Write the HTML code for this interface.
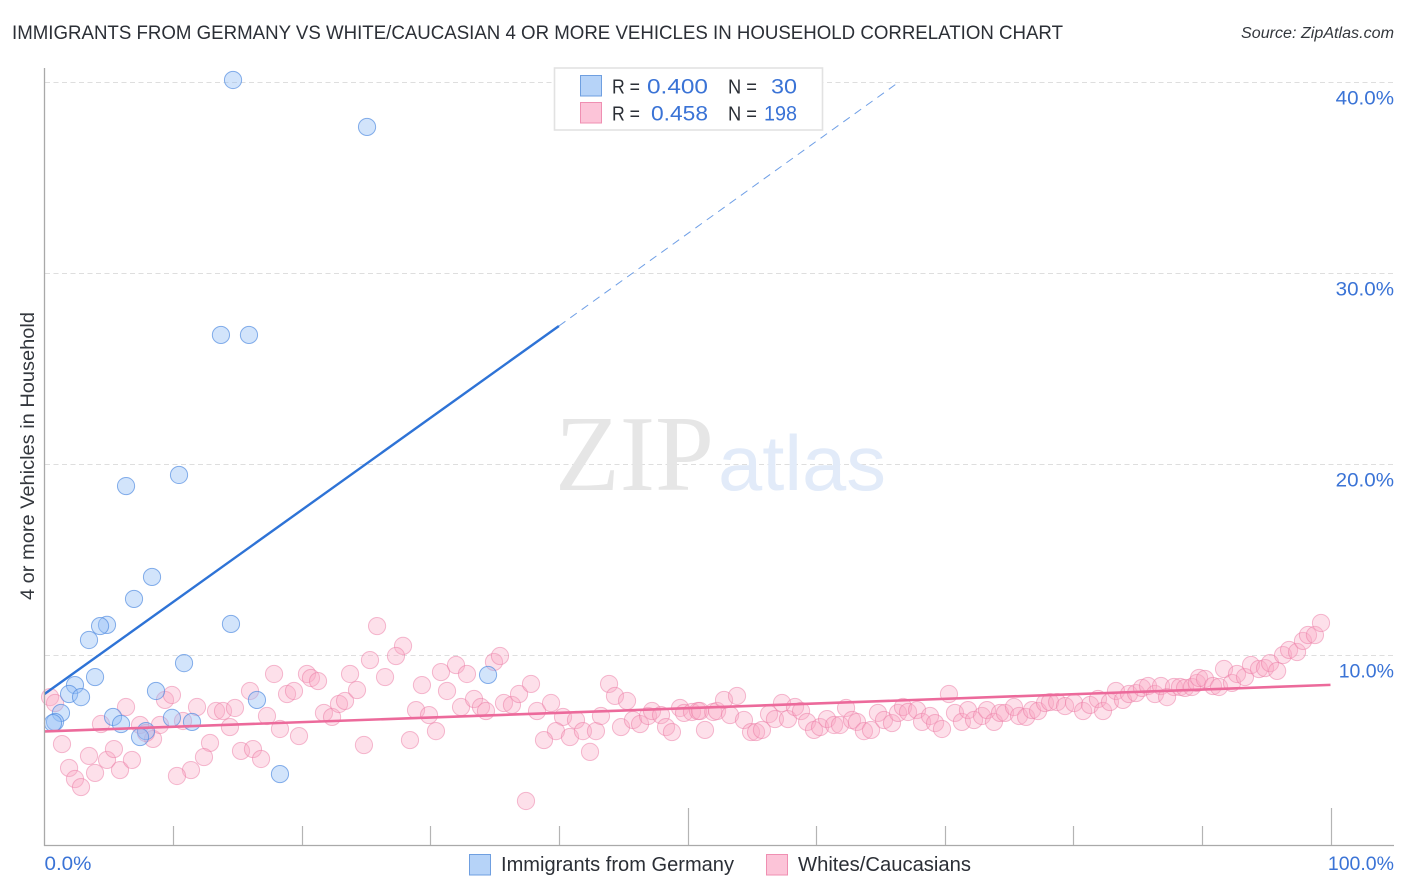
<!DOCTYPE html>
<html lang="en">
<head>
<meta charset="utf-8">
<title>Immigrants from Germany vs White/Caucasian 4 or more Vehicles in Household Correlation Chart</title>
<style>
html,body{margin:0;padding:0;background:#fff;width:1406px;height:892px;overflow:hidden}
svg{display:block;font-family:"Liberation Sans",sans-serif}
</style>
</head>
<body>
<svg id="chart" xmlns="http://www.w3.org/2000/svg" width="1406" height="892" viewBox="0 0 1406 892">
  <rect x="0" y="0" width="1406" height="892" fill="#ffffff"/>
  <text x="12" y="39" font-size="19.5" fill="#2b2f36" textLength="1051" lengthAdjust="spacingAndGlyphs">IMMIGRANTS FROM GERMANY VS WHITE/CAUCASIAN 4 OR MORE VEHICLES IN HOUSEHOLD CORRELATION CHART</text>
  <text x="1241" y="38" font-size="15.5" font-style="italic" fill="#33373d" textLength="153" lengthAdjust="spacingAndGlyphs">Source: ZipAtlas.com</text>
  <g id="grid"></g>
  <g>
    <text x="555" y="490" font-family="'Liberation Serif',serif" font-size="108" fill="#e6e6e6" textLength="159" lengthAdjust="spacingAndGlyphs">ZIP</text>
    <text x="718" y="490" font-size="78" fill="#e2ebf9" textLength="168" lengthAdjust="spacingAndGlyphs">atlas</text>
  </g>
  <g id="whites-points"></g>
  <g id="germany-points"></g>
  <g id="trends"></g>
  <g id="axes"></g>
  <text transform="translate(34,600) rotate(-90)" font-size="19.5" fill="#33373d" textLength="288" lengthAdjust="spacingAndGlyphs">4 or more Vehicles in Household</text>

  <g>
    <rect x="554.5" y="68" width="268" height="62" fill="#ffffff" stroke="#e2e2e2" stroke-width="1.6"/>
    <rect x="580.5" y="75.5" width="21" height="20.5" fill="#b6d3f8" stroke="#6f9fe0" stroke-width="1"/>
    <rect x="580.5" y="102.5" width="21" height="20.5" fill="#fcc4d8" stroke="#ef8fb2" stroke-width="1"/>
    <g font-size="20.5" fill="#2b2f36">
      <text x="612" y="93.5" textLength="28" lengthAdjust="spacingAndGlyphs">R =</text>
      <text x="728" y="93.5" textLength="29" lengthAdjust="spacingAndGlyphs">N =</text>
      <text x="612" y="120.5" textLength="28" lengthAdjust="spacingAndGlyphs">R =</text>
      <text x="728" y="120.5" textLength="29" lengthAdjust="spacingAndGlyphs">N =</text>
    </g>
    <g font-size="21.5" fill="#3a73d6">
      <text x="647" y="93.5" textLength="61" lengthAdjust="spacingAndGlyphs">0.400</text>
      <text x="771" y="93.5" textLength="26" lengthAdjust="spacingAndGlyphs">30</text>
      <text x="651" y="120.5" textLength="57" lengthAdjust="spacingAndGlyphs">0.458</text>
      <text x="764" y="120.5" textLength="33" lengthAdjust="spacingAndGlyphs">198</text>
    </g>
  </g>

  <g>
    <g>
      <rect x="469.5" y="854.5" width="21" height="20.5" fill="#b6d3f8" stroke="#6f9fe0" stroke-width="1"/>
      <text x="501" y="871" font-size="20" fill="#2b2f36" textLength="233" lengthAdjust="spacingAndGlyphs">Immigrants from Germany</text>
    </g>
    <g>
      <rect x="766.5" y="854.5" width="21" height="20.5" fill="#fcc4d8" stroke="#ef8fb2" stroke-width="1"/>
      <text x="798" y="871" font-size="20" fill="#2b2f36" textLength="173" lengthAdjust="spacingAndGlyphs">Whites/Caucasians</text>
    </g>
  </g>
</svg>
<script>
// ---- Data (percent values) ----
const yTickValues = [10, 20, 30, 40];
const yTickLabels = ["10.0%", "20.0%", "30.0%", "40.0%"];
const xTickValues = [10, 20, 30, 40, 50, 60, 70, 80, 90, 100];
const xEndValues = [0, 100];
const xEndLabels = ["0.0%", "100.0%"];

const germanyX = [14.66,25.08,13.72,15.90,6.34,10.46,8.36,6.96,14.50,4.86,4.32,3.46,10.85,3.93,34.49,2.37,1.91,2.84,8.67,16.52,1.28,0.82,0.66,5.33,5.95,9.91,11.47,7.89,7.43,18.31];
const germanyY = [40.08,37.62,26.73,26.73,18.82,19.40,14.06,12.91,11.60,11.55,11.49,10.76,9.55,8.82,8.93,8.40,7.93,7.77,8.09,7.62,6.94,6.47,6.41,6.73,6.36,6.68,6.47,5.99,5.68,3.74];

const whitesX = [0.43,0.82,1.36,1.91,2.37,2.84,3.46,3.93,4.86,5.40,5.87,6.80,4.39,6.34,7.43,8.44,7.89,8.98,9.37,9.91,10.77,11.86,12.87,12.40,11.39,10.30,13.34,13.88,14.81,15.98,15.28,16.21,16.84,14.42,17.30,18.31,19.79,17.85,18.86,19.40,20.41,20.72,21.27,21.73,22.36,22.90,23.37,23.76,
25.86,27.88,27.33,25.31,26.48,24.30,24.84,28.42,30.44,29.35,28.89,29.90,30.83,32.00,32.85,31.30,32.39,33.40,33.94,34.33,34.95,35.42,35.73,36.35,36.90,37.83,38.30,39.39,40.32,41.33,39.77,38.84,40.86,41.87,42.88,42.42,43.27,37.44,43.90,44.36,45.30,44.83,45.76,46.31,46.93,47.24,47.94,48.33,48.79,49.42,49.73,50.35,50.82,
51.36,50.97,52.00,52.30,52.84,53.31,53.85,54.39,54.94,55.33,55.79,56.34,56.80,57.35,57.81,58.36,58.83,59.30,59.84,60.31,60.85,61.40,61.86,62.33,62.79,63.18,63.72,64.27,64.81,65.28,65.90,66.37,66.76,67.15,67.85,68.24,68.86,69.25,69.79,70.33,70.80,71.34,71.81,72.28,72.90,73.29,73.83,74.30,74.69,75.39,75.78,76.33,76.79,77.26,77.80,
78.19,78.74,79.36,80.06,80.76,81.30,81.92,82.31,82.85,83.32,83.86,84.33,84.88,85.34,85.81,86.35,86.82,87.29,87.83,88.30,88.69,89.23,89.62,89.78,90.24,90.86,91.33,91.72,92.34,92.73,93.35,93.82,94.44,94.91,95.30,95.85,96.31,96.78,97.40,97.86,98.25,98.79,99.26];
const whitesY = [7.77,7.46,5.31,4.06,3.48,3.06,4.69,3.80,4.48,5.05,3.95,4.48,6.36,7.25,6.31,5.58,5.89,6.31,7.62,7.88,6.52,7.25,5.37,4.63,3.95,3.64,7.04,7.04,7.20,8.09,4.95,5.05,4.53,6.20,6.78,6.10,5.73,8.98,7.93,8.09,8.98,8.77,8.61,6.94,6.73,7.41,7.57,8.98,
11.49,10.45,9.92,9.71,8.82,8.14,5.26,5.52,5.99,8.40,7.09,6.83,9.08,9.45,8.98,8.09,7.25,7.67,7.25,7.04,9.61,9.92,7.46,7.36,7.93,8.46,7.04,7.46,6.73,6.57,5.99,5.52,5.68,5.99,5.99,4.90,6.78,2.33,8.46,7.83,7.57,6.20,6.57,6.36,6.78,7.04,6.83,6.20,5.94,7.20,6.94,6.99,7.04,
6.05,7.04,6.99,7.04,7.62,6.83,7.83,6.57,5.94,5.94,6.05,6.88,6.62,7.46,6.62,7.25,7.04,6.47,6.05,6.20,6.62,6.31,6.31,7.20,6.57,6.47,5.99,6.05,6.94,6.57,6.41,6.94,7.25,6.99,7.09,6.47,6.78,6.41,6.10,7.93,6.94,6.47,7.09,6.57,6.78,7.09,6.47,6.94,6.94,7.25,6.78,6.73,7.09,7.04,7.46,
7.51,7.51,7.30,7.46,7.04,7.36,7.67,7.04,7.51,8.09,7.62,7.93,7.98,8.25,8.35,7.93,8.35,7.77,8.30,8.30,8.25,8.30,8.51,8.77,8.72,8.35,8.30,9.24,8.51,8.98,8.82,9.45,9.24,9.29,9.55,9.14,9.97,10.24,10.13,10.71,11.02,11.02,11.65];

// Regression lines: [value at x-start, value at x-end]
const germanyTrendX = [0, 40];
const germanyTrendY = [7.93, 27.2];
const germanyForecastX = [40, 66.5];
const germanyForecastY = [27.2, 40];
const whitesTrendX = [0, 100];
const whitesTrendY = [5.97, 8.41];

// ---- Axis functions ----
const xScale = v => 44.5 + v * 12.86;
const yScale = v => 845.5 - v * 19.1;

const NS = "http://www.w3.org/2000/svg";
function make(tag, parentId, attrs) {
  const el = document.createElementNS(NS, tag);
  for (const k in attrs) el.setAttribute(k, attrs[k]);
  document.getElementById(parentId).appendChild(el);
  return el;
}
// Reference tick font is slightly wider than Liberation Sans, except its narrow "1"
function widen(label) {
  const factor = label.textContent.charAt(0) === "1" ? 1 : 1.055;
  label.setAttribute("textLength", label.getComputedTextLength() * factor);
  label.setAttribute("lengthAdjust", "spacingAndGlyphs");
}

// Gridlines and right-hand labels
yTickValues.forEach((v, i) => {
  const gy = Math.round(yScale(v)) + 0.5;
  const line = make("line", "grid", {x1: 45, x2: 1394, y1: gy, y2: gy, stroke: "#dedede", "stroke-width": 1, "stroke-dasharray": "5 3.5"});
  
  
  const label = make("text", "axes", {x: 1394, y: yScale(v) + 23, "font-size": 19.5, fill: "#3a73d6", "text-anchor": "end"});
  label.textContent = yTickLabels[i];
  widen(label);
  
  
});

// Whites/Caucasians points
whitesX.forEach((x, i) => {
  const c = make("circle", "whites-points", {cx: xScale(x), cy: yScale(whitesY[i]), r: 8.6, fill: "#f9a8c4", "fill-opacity": 0.36, stroke: "#ec7aa4", "stroke-opacity": 0.5, "stroke-width": 1});
  
  
});

// Immigrants from Germany points
germanyX.forEach((x, i) => {
  const c = make("circle", "germany-points", {cx: xScale(x), cy: yScale(germanyY[i]), r: 8.6, fill: "#93bef5", "fill-opacity": 0.42, stroke: "#4f8ae0", "stroke-opacity": 0.68, "stroke-width": 1});
  
  
});

// Trend lines
const germanyLine = make("line", "trends", {x1: xScale(germanyTrendX[0]), y1: yScale(germanyTrendY[0]), x2: xScale(germanyTrendX[1]), y2: yScale(germanyTrendY[1]), stroke: "#2e73d6", "stroke-width": 2.4});


const germanyDash = make("line", "trends", {x1: xScale(germanyForecastX[0]), y1: yScale(germanyForecastY[0]), x2: xScale(germanyForecastX[1]), y2: yScale(germanyForecastY[1]), stroke: "#6f9fe6", "stroke-width": 1, "stroke-dasharray": "8 6"});


const whitesLine = make("line", "trends", {x1: xScale(whitesTrendX[0]), y1: yScale(whitesTrendY[0]), x2: xScale(whitesTrendX[1]), y2: yScale(whitesTrendY[1]), stroke: "#ec6a9b", "stroke-width": 2.6});



// Axes
const yAxis = make("line", "axes", {x1: 44.5, x2: 44.5, y1: 68, y2: 846, stroke: "#a9a9a9", "stroke-width": 1.3});


const xAxis = make("line", "axes", {x1: 44, x2: 1394, y1: 845.5, y2: 845.5, stroke: "#a9a9a9", "stroke-width": 1.3});


xTickValues.forEach(v => {
  const tx = Math.round(xScale(v)) + 0.5;
  const major = v % 50 === 0;
  const tick = make("line", "axes", {x1: tx, x2: tx, y1: major ? 808 : 826, y2: 845, stroke: "#b4b4b4", "stroke-width": 1.2});
  
  
});
xEndValues.forEach((v, i) => {
  const label = make("text", "axes", {x: i === 0 ? xScale(v) : 1394, y: 870, "font-size": 19.5, fill: "#3a73d6", "text-anchor": i === 0 ? "start" : "end"});
  label.textContent = xEndLabels[i];
  widen(label);
  
  
});
</script>
</body>
</html>
